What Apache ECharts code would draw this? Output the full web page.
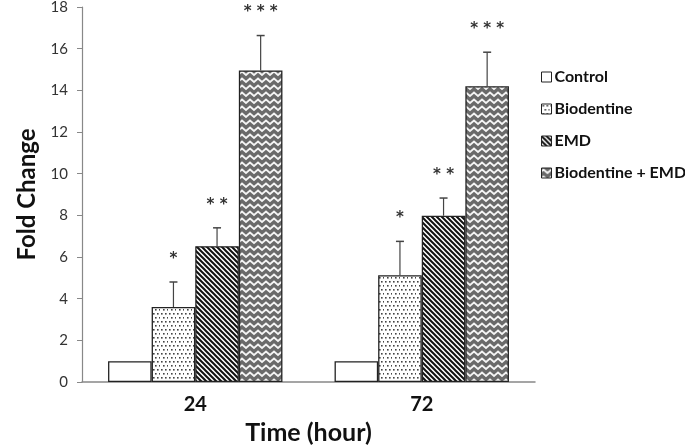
<!DOCTYPE html>
<html>
<head>
<meta charset="utf-8">
<script src="https://cdn.jsdelivr.net/npm/echarts@6/dist/echarts.min.js"></script>
<style>html,body{margin:0;padding:0;background:#fff}#c{width:685px;height:446px}</style>
</head>
<body>
<div id="c"></div>
<script>
var categories = ['24', '72'];
var seriesNames = ['Control', 'Biodentine', 'EMD', 'Biodentine + EMD'];
var control = [1, 1];
var biodentine = [3.6, 5.13];
var emd = [6.52, 7.98];
var combo = [14.95, 14.2];
var controlErr = [0, 0];
var biodentineErr = [1.2, 1.62];
var emdErr = [0.88, 0.85];
var comboErr = [1.68, 1.63];
var controlSig = ['', ''];
var biodentineSig = ['*', '*'];
var emdSig = ['**', '**'];
var comboSig = ['***', '***'];
var yTicks = [0, 2, 4, 6, 8, 10, 12, 14, 16, 18];

var values = [control, biodentine, emd, combo];
var errors = [controlErr, biodentineErr, emdErr, comboErr];
var sigs = [controlSig, biodentineSig, emdSig, comboSig];

function makeCanvas(w, h, draw) {
  var c = document.createElement('canvas');
  c.width = w; c.height = h;
  var ctx = c.getContext('2d');
  draw(ctx, w, h);
  return c;
}
var dotPat = makeCanvas(8, 8, function (ctx, w, h) {
  ctx.fillStyle = '#fff'; ctx.fillRect(0, 0, w, h);
  ctx.fillStyle = '#444';
  ctx.fillRect(1, 1, 1.6, 1.6);
  ctx.fillRect(5, 1, 1.6, 1.6);
  ctx.fillRect(3, 5, 1.6, 1.6);
  ctx.fillRect(7, 5, 1.6, 1.6);
});
var diagPat = makeCanvas(5, 5, function (ctx, w, h) {
  ctx.fillStyle = '#fff'; ctx.fillRect(0, 0, w, h);
  ctx.strokeStyle = '#111'; ctx.lineWidth = 2;
  ctx.beginPath();
  ctx.moveTo(-2, -2); ctx.lineTo(7, 7);
  ctx.moveTo(-2, 3); ctx.lineTo(2, 7);
  ctx.moveTo(3, -2); ctx.lineTo(7, 2);
  ctx.stroke();
});
var zigPat = makeCanvas(8, 7, function (ctx, w, h) {
  ctx.fillStyle = '#6a6a6a'; ctx.fillRect(0, 0, w, h);
  ctx.strokeStyle = '#f4f4f4'; ctx.lineWidth = 1.8;
  ctx.beginPath();
  ctx.moveTo(-2, 5); ctx.lineTo(2, 1.5); ctx.lineTo(6, 5); ctx.lineTo(10, 1.5);
  ctx.stroke();
});
var fills = [
  '#ffffff',
  { image: dotPat, repeat: 'repeat' },
  { image: diagPat, repeat: 'repeat' },
  { image: zigPat, repeat: 'repeat' }
];

var catGap = 0.23;
var series = [];
for (var i = 0; i < 4; i++) {
  series.push({
    name: seriesNames[i],
    type: 'bar',
    data: values[i],
    barGap: '0%',
    barCategoryGap: (catGap * 100) + '%',
    itemStyle: { color: fills[i], borderColor: '#222', borderWidth: 1.3 },
    emphasis: { disabled: true },
    z: 2
  });
}
(function () {
  var errData = [];
  for (var s = 0; s < 4; s++) {
    for (var c = 0; c < categories.length; c++) {
      errData.push([c, values[s][c], errors[s][c], s]);
    }
  }
  series.push({
    type: 'custom',
    name: 'err',
    data: errData,
    z: 5,
    silent: true,
    encode: { x: 0, y: 1 },
    renderItem: function (params, api) {
      var c = api.value(0), v = api.value(1), e = api.value(2), s = api.value(3);
      var sig = sigs[s][c];
      var base = api.coord([c, v]);
      var band = api.size([1, 0])[0];
      var bw = band * (1 - catGap) / 4;
      var x = base[0] + (s - 1.5) * bw;
      var top = api.coord([c, v + e])[1];
      var children = [];
      if (e > 0) {
        children.push({ type: 'line', shape: { x1: x, y1: base[1], x2: x, y2: top }, style: { stroke: '#444', lineWidth: 1.2 } });
        children.push({ type: 'line', shape: { x1: x - 4, y1: top, x2: x + 4, y2: top }, style: { stroke: '#444', lineWidth: 1.5 } });
      }
      if (sig) {
        children.push({ type: 'text', style: { text: sig.split('').join(' '), x: x, y: top - 23, align: 'center', verticalAlign: 'middle', font: 'bold 15px "DejaVu Sans"', fill: '#333' } });
      }
      return { type: 'group', children: children };
    }
  });
})();

var chart = echarts.init(document.getElementById('c'), null, { renderer: 'canvas' });
chart.setOption({
  animation: false,
  backgroundColor: '#fff',
  grid: { left: 82, right: 150, top: 7, bottom: 64, outerBoundsMode: 'none', containLabel: false },
  legend: {
    data: seriesNames,
    orient: 'vertical',
    left: 536,
    top: 64,
    itemWidth: 10,
    itemHeight: 10,
    itemGap: 16,
    icon: 'rect',
    selectedMode: false,
    textStyle: { fontFamily: 'Lato', fontWeight: 'bold', fontSize: 16, color: '#111', padding: [0, 0, 0, -2] },
    itemStyle: { borderColor: '#222', borderWidth: 1 }
  },
  xAxis: {
    type: 'category',
    data: categories,
    name: 'Time (hour)',
    nameLocation: 'middle',
    nameGap: 38,
    nameTextStyle: { fontFamily: 'Lato', fontWeight: 'bold', fontSize: 25, color: '#111' },
    axisLine: { lineStyle: { color: '#888', width: 1.5 } },
    axisTick: { show: false },
    axisLabel: { fontFamily: 'Lato', fontWeight: 'bold', fontSize: 20, color: '#111', margin: 13 }
  },
  yAxis: {
    type: 'value',
    min: yTicks[0],
    max: yTicks[yTicks.length - 1],
    interval: yTicks[1] - yTicks[0],
    name: 'Fold Change',
    nameLocation: 'middle',
    nameGap: 39,
    nameTextStyle: { fontFamily: 'Lato', fontWeight: 'bold', fontSize: 24, color: '#111' },
    axisLine: { show: true, lineStyle: { color: '#888', width: 1.2 } },
    axisTick: { show: true, length: 5, lineStyle: { color: '#888' } },
    splitLine: { show: false },
    axisLabel: { fontFamily: 'Lato', fontSize: 15, color: '#333', margin: 14 }
  },
  series: series
});
</script>
</body>
</html>
